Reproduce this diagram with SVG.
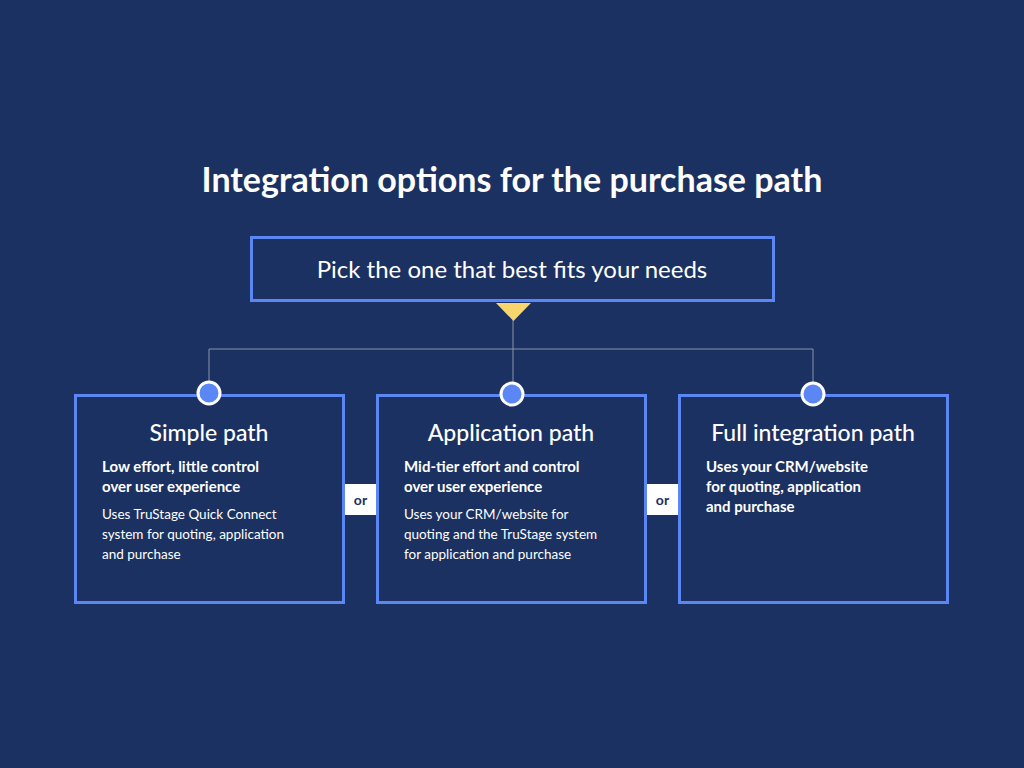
<svg xmlns="http://www.w3.org/2000/svg" width="1024" height="768" viewBox="0 0 1024 768">
<style>
.t{font-family:"Lato","Liberation Sans",sans-serif;fill:#fff}
.box{fill:#1b3161;stroke:#5b87f5;stroke-width:3}
.dot{fill:#5b87f5;stroke:#fff;stroke-width:3}
.h{font-size:23px;font-weight:500;text-anchor:middle}
.s{font-size:15px;font-weight:bold}
.b{font-size:13.5px}
.or{fill:#fff}
</style>
<rect width="1024" height="768" fill="#1b3161"/>
<text class="t" x="512" y="192" font-size="34" font-weight="bold" text-anchor="middle">Integration options for the purchase path</text>
<g id="connectors" fill="none" stroke="#8a93a8" stroke-width="1">
<path d="M513 303V349M209 393V349H813V393M513 349V393"/>
</g>
<g id="top"><rect class="box" x="251.500" y="237.500" width="522" height="63"/>
<text class="t" x="512" y="278" font-size="24" text-anchor="middle">Pick the one that best fits your needs</text>
<polygon points="496,303 531,303 513.500,321" fill="#f9d56e"/></g>
<g id="simple"><rect class="box" x="75.500" y="395.500" width="268" height="207"/>
<circle class="dot" cx="209" cy="393" r="11"/>
<text class="t h" x="209" y="441">Simple path</text>
<text class="t s" x="102" y="472">Low effort, little control</text>
<text class="t s" x="102" y="492">over user experience</text>
<text class="t b" x="102" y="519">Uses TruStage Quick Connect</text>
<text class="t b" x="102" y="539">system for quoting, application</text>
<text class="t b" x="102" y="559">and purchase</text></g>
<g id="or1"><rect class="or" x="345" y="484" width="31" height="31"/>
<text x="360.500" y="505" font-family="Lato,'Liberation Sans',sans-serif" font-size="14" font-weight="bold" fill="#1b3161" text-anchor="middle">or</text></g>
<g id="app"><rect class="box" x="377.500" y="395.500" width="268" height="207"/>
<circle class="dot" cx="512" cy="394" r="11"/>
<text class="t h" x="511" y="441">Application path</text>
<text class="t s" x="404" y="472">Mid-tier effort and control</text>
<text class="t s" x="404" y="492">over user experience</text>
<text class="t b" x="404" y="519">Uses your CRM/website for</text>
<text class="t b" x="404" y="539">quoting and the TruStage system</text>
<text class="t b" x="404" y="559">for application and purchase</text></g>
<g id="or2"><rect class="or" x="647" y="484" width="31" height="31"/>
<text x="662.500" y="505" font-family="Lato,'Liberation Sans',sans-serif" font-size="14" font-weight="bold" fill="#1b3161" text-anchor="middle">or</text></g>
<g id="full"><rect class="box" x="679.500" y="395.500" width="268" height="207"/>
<circle class="dot" cx="813" cy="394" r="11"/>
<text class="t h" x="813" y="441">Full integration path</text>
<text class="t s" x="706" y="472">Uses your CRM/website</text>
<text class="t s" x="706" y="492">for quoting, application</text>
<text class="t s" x="706" y="512">and purchase</text></g>
</svg>
